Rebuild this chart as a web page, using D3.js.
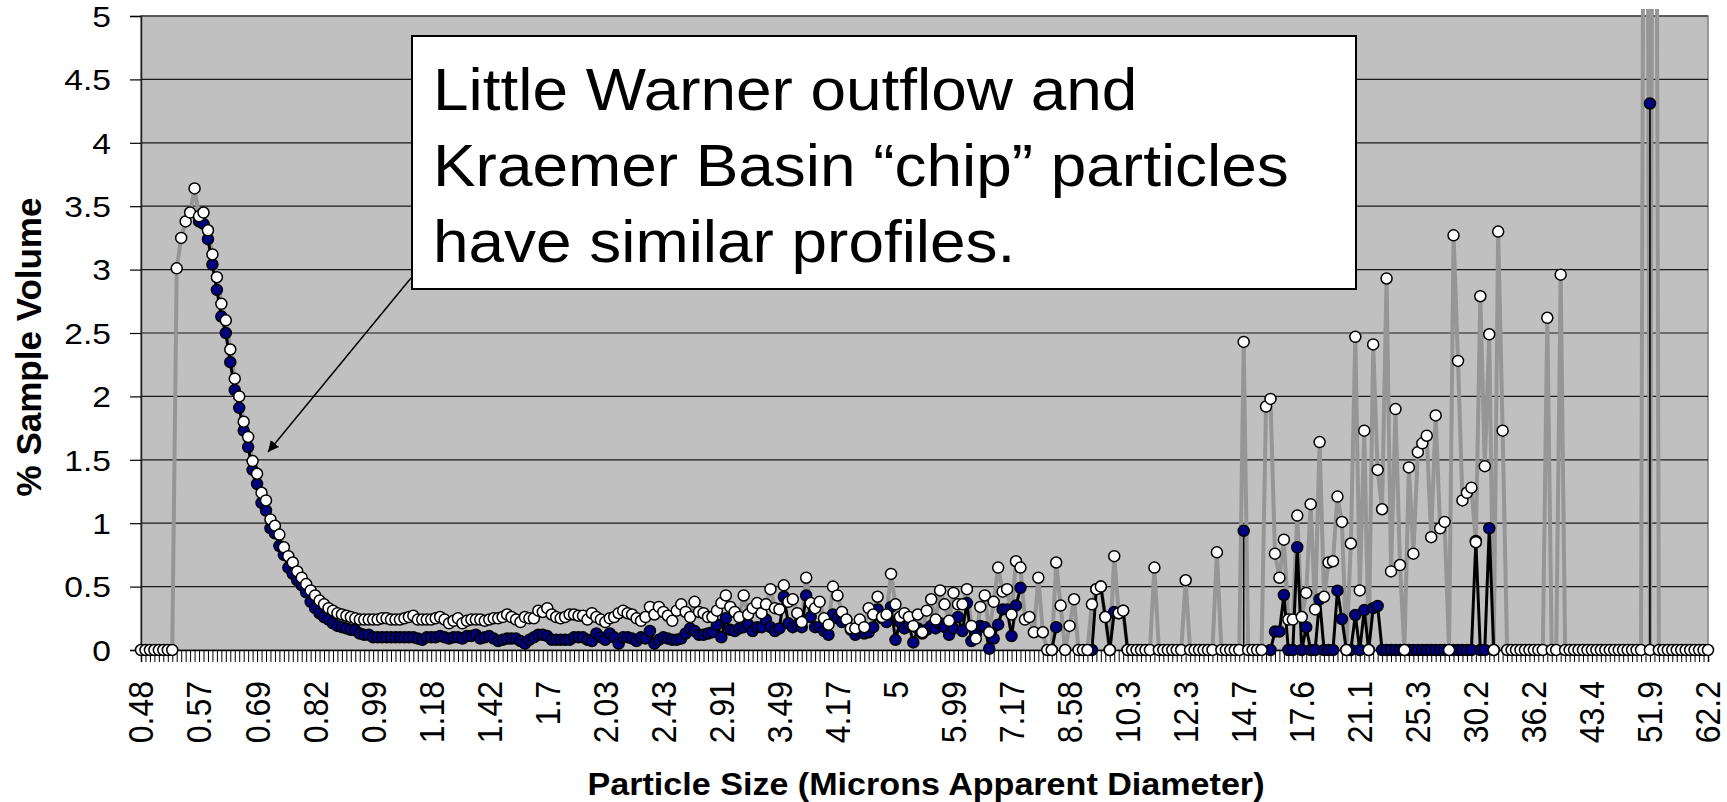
<!DOCTYPE html>
<html><head><meta charset="utf-8">
<script src="https://cdn.jsdelivr.net/npm/d3@7"></script>
<style>
body{margin:0;background:#fff}
svg{display:block}
text{font-family:"Liberation Sans",Arial,sans-serif;fill:#000}
</style>
</head><body>
<svg id="chart" width="1727" height="802"></svg>
<script>
// Tick labels on the category axis (particle size, microns), one label every 13 channels
const sizeLabels = ["0.48","0.57","0.69","0.82","0.99","1.18","1.42","1.7","2.03","2.43","2.91","3.49","4.17","5","5.99","7.17","8.58","10.3","12.3","14.7","17.6","21.1","25.3","30.2","36.2","43.4","51.9","62.2"];
const labelEvery = 13;
const yTickValues = [0,0.5,1,1.5,2,2.5,3,3.5,4,4.5,5];

// Series 1 (grey line, white markers) - % sample volume per size channel
const outflowSeries = [
0,0,0,0,0,0,0,0,3.01,3.25,
3.38,3.45,3.64,3.42,3.45,3.31,3.12,2.94,2.73,2.60,
2.37,2.14,2.00,1.80,1.68,1.49,1.39,1.24,1.18,1.03,
0.98,0.91,0.81,0.74,0.69,0.62,0.57,0.52,0.47,0.43,
0.39,0.36,0.33,0.31,0.29,0.28,0.27,0.26,0.25,0.24,
0.24,0.24,0.24,0.24,0.25,0.25,0.24,0.24,0.24,0.25,
0.26,0.27,0.24,0.24,0.24,0.24,0.25,0.26,0.24,0.21,
0.23,0.25,0.21,0.23,0.24,0.24,0.24,0.23,0.24,0.25,
0.25,0.26,0.28,0.26,0.24,0.22,0.26,0.25,0.25,0.31,
0.30,0.33,0.28,0.26,0.25,0.26,0.28,0.28,0.27,0.27,
0.24,0.29,0.26,0.24,0.22,0.25,0.26,0.29,0.31,0.29,
0.28,0.25,0.23,0.26,0.34,0.28,0.34,0.30,0.27,0.23,
0.31,0.36,0.30,0.26,0.38,0.30,0.29,0.26,0.26,0.31,
0.37,0.43,0.34,0.30,0.26,0.43,0.28,0.33,0.37,0.29,
0.36,0.48,0.33,0.32,0.51,0.38,0.40,0.29,0.22,0.57,
0.37,0.33,0.38,0.25,0.20,0.50,0.43,0.30,0.24,0.17,
0.17,0.24,0.18,0.33,0.28,0.42,0.26,0.28,0.60,0.36,
0.26,0.29,0.26,0.19,0.28,0.14,0.31,0.40,0.24,0.47,
0.36,0.23,0.45,0.36,0.36,0.48,0.19,0.09,0.34,0.43,
0.14,0.38,0.65,0.46,0.48,0.28,0.70,0.65,0.24,0.26,
0.14,0.57,0.14,0,0,0.69,0.35,0,0.19,0.40,
0,0,0,0.36,0.48,0.50,0.26,0,0.74,0.29,
0.31,0,0,0,0,0,0,0.65,0,0,
0,0,0,0,0.55,0,0,0,0,0,
0,0.77,0,0,0,0,0,2.43,0,0,
0,0,1.92,1.98,0.76,0.57,0.87,0.24,0.24,1.06,
0.26,0.45,1.15,0.32,1.64,0.42,0.69,0.70,1.21,1.01,
0,0.84,2.47,0.47,1.73,0,2.41,1.42,1.11,2.93,
0.62,1.90,0.67,0,1.44,0.76,1.56,1.63,1.69,0.89,
1.85,0.96,1.01,0,3.27,2.28,1.18,1.24,1.28,0.85,
2.79,1.45,2.49,0,3.30,1.73,0,0,0,0,
0,0,0,0,0,2.62,0,0,2.96,0,
0,0,0,0,0,0,0,0,0,0,
0,0,0,0,0,0,0,12,0,12,
0,0,0,0,0,0,0,0,0,0,
0,0
];

// Series 2 (black line, navy markers); null = no value in that channel
const chipSeries = [
null,null,null,null,null,null,null,null,null,null,
null,null,null,3.38,3.36,3.24,3.04,2.84,2.63,2.50,
2.27,2.05,1.91,1.73,1.60,1.42,1.31,1.16,1.10,0.96,
0.92,0.82,0.75,0.65,0.60,0.55,0.51,0.455,0.38,0.33,
0.29,0.26,0.24,0.21,0.19,0.18,0.17,0.16,0.155,0.13,
0.12,0.12,0.10,0.10,0.10,0.10,0.10,0.10,0.10,0.10,
0.10,0.10,0.09,0.08,0.10,0.10,0.10,0.11,0.10,0.09,
0.10,0.10,0.09,0.11,0.11,0.12,0.09,0.10,0.11,0.09,
0.07,0.08,0.09,0.09,0.09,0.07,0.05,0.08,0.10,0.12,
0.12,0.11,0.08,0.08,0.08,0.08,0.08,0.10,0.10,0.10,
0.08,0.07,0.13,0.10,0.08,0.13,0.10,0.05,0.10,0.10,
0.09,0.07,0.10,0.09,0.15,0.05,0.08,0.10,0.09,0.08,
0.08,0.09,0.13,0.17,0.15,0.12,0.12,0.13,0.14,0.20,
0.10,0.25,0.16,0.15,0.17,0.18,0.20,0.15,0.18,0.18,
0.24,0.18,0.15,0.17,0.42,0.21,0.18,0.20,0.18,0.43,
0.26,0.18,0.18,0.15,0.12,0.28,0.25,0.22,0.24,0.16,
0.12,0.15,0.13,0.14,0.18,0.32,0.25,0.22,0.34,0.08,
0.22,0.17,0.20,0.06,0.17,0.13,0.16,0.19,0.17,0.21,
0.18,0.12,0.17,0.26,0.15,0.37,0.07,0.13,0.19,0.18,
0.01,0.09,0.20,0.32,0.32,0.11,0.35,0.49,null,null,
null,null,null,null,0,0.18,null,null,null,null,
null,null,null,0,0.48,0.50,0.26,0,0.30,0.29,
0.31,0,null,null,null,null,null,null,null,null,
null,null,null,null,null,null,null,null,null,null,
null,null,null,null,null,null,null,0.94,null,null,
null,null,null,0,0.145,0.145,0.434,0,0,0.81,
0,0.18,0,0,0.40,0,0,0,0.468,0.244,
0,0,0.276,0,0.315,0,0.33,0.347,0,0,
0,0,0,0,0,0,0,0,0,0,
0,0,0,0,0,0,0,0,0,0.86,
0,0,0.96,0,null,null,null,null,null,null,
null,null,null,null,null,null,null,null,null,null,
null,null,null,null,null,null,null,null,null,null,
null,null,null,null,null,null,null,null,4.31,null,
null,null,null,null,null,null,null,null,null,null,
null,null
];

const annotationLines = ["Little Warner outflow and","Kraemer Basin \u201cchip\u201d particles","have similar profiles."];
const xTitle = "Particle Size (Microns Apparent Diameter)";
const yTitle = "% Sample Volume";

const svg = d3.select("#chart");
const plot = {left:141, right:1708, top:16, bottom:650};
const channels = d3.range(outflowSeries.length);

const x = d3.scalePoint().domain(channels).range([plot.left, plot.right]);
const y = d3.scaleLinear().domain([0,5]).range([plot.bottom, plot.top]);

// plot background
svg.append("rect").attr("x",plot.left).attr("y",plot.top)
  .attr("width",plot.right-plot.left).attr("height",plot.bottom-plot.top)
  .attr("fill","#C0C0C0").attr("stroke","#808080").attr("stroke-width",1.5);

// gridlines
svg.append("g").selectAll("line").data(yTickValues.filter(v=>v>0)).join("line")
  .attr("x1",plot.left).attr("x2",plot.right)
  .attr("y1",d=>y(d)).attr("y2",d=>y(d))
  .attr("stroke","#1a1a1a").attr("stroke-width",1.2);

// Y axis
const yAxis = d3.axisLeft(y).tickValues(yTickValues).tickSize(11).tickFormat(()=> "");
const gy = svg.append("g").attr("transform",`translate(${plot.left},0)`).call(yAxis);
gy.select(".domain").attr("stroke","#222").attr("stroke-width",1.5);
gy.selectAll(".tick line").attr("stroke","#000").attr("stroke-width",1.2);
svg.append("g").selectAll("text").data(yTickValues).join("text")
  .attr("transform",d=>`translate(111,${y(d)}) scale(1.12,1)`)
  .attr("text-anchor","end").attr("dy","0.36em")
  .style("font-size","30px")
  .text(d=>d3.format("")(d));

// X axis (ticks on every channel)
const xAxis = d3.axisBottom(x).tickValues(channels).tickSize(12).tickFormat(()=>"");
const gx = svg.append("g").attr("transform",`translate(0,${plot.bottom})`).call(xAxis);
gx.select(".domain").attr("stroke","#000").attr("stroke-width",1.5);
gx.selectAll(".tick line").attr("stroke","#000").attr("stroke-width",1);

svg.append("g").selectAll("text").data(sizeLabels).join("text")
  .attr("transform",(d,i)=>`translate(${x(i*labelEvery)},681) scale(1.08,1) rotate(-90)`)
  .attr("text-anchor","end").attr("dy","0.36em")
  .style("font-size","32px")
  .text(d=>d);

// clip for series
svg.append("clipPath").attr("id","clip").append("rect")
  .attr("x",plot.left-10).attr("y",9).attr("width",plot.right-plot.left+20).attr("height",plot.bottom-9+12);

const series = svg.append("g").attr("clip-path","url(#clip)");
const line = d3.line().defined(d=>d.v!==null).x(d=>x(d.i)).y(d=>y(d.v));
const outflowPts = outflowSeries.map((v,i)=>({i,v}));
const chipPts = chipSeries.map((v,i)=>({i,v}));

series.append("path").datum(outflowPts).attr("d",line)
  .attr("fill","none").attr("stroke","#969696").attr("stroke-width",4).attr("stroke-linejoin","round");
series.append("path").datum(chipPts).attr("d",line)
  .attr("fill","none").attr("stroke","#000").attr("stroke-width",3).attr("stroke-linejoin","round");

// connector from isolated navy points down to the axis
const isolated = chipPts.filter(d=>d.v!==null && (chipSeries[d.i-1]==null) && (chipSeries[d.i+1]==null));
series.selectAll("line.drop").data(isolated).join("line").attr("class","drop")
  .attr("x1",d=>x(d.i)).attr("x2",d=>x(d.i)).attr("y1",d=>y(d.v)).attr("y2",y(0))
  .attr("stroke","#000").attr("stroke-width",1.6);

series.selectAll("circle.chip").data(chipPts.filter(d=>d.v!==null)).join("circle").attr("class","chip")
  .attr("cx",d=>x(d.i)).attr("cy",d=>y(d.v)).attr("r",5.5)
  .attr("fill","#000080").attr("stroke","#000").attr("stroke-width",1.5);
series.selectAll("circle.out").data(outflowPts).join("circle").attr("class","out")
  .attr("cx",d=>x(d.i)).attr("cy",d=>y(d.v)).attr("r",5.5)
  .attr("fill","#fff").attr("stroke","#000").attr("stroke-width",1.5);

// axis titles
svg.append("text").attr("transform","translate(926,795) scale(1.1,1)")
  .attr("text-anchor","middle").style("font-size","31px").style("font-weight","bold").text(xTitle);
svg.append("text").attr("transform","translate(41,347) rotate(-90)")
  .attr("text-anchor","middle").style("font-size","35px").style("font-weight","bold").text(yTitle);

// annotation box + arrow
svg.append("defs").append("marker").attr("id","arrow").attr("viewBox","0 0 10 10")
  .attr("refX",10).attr("refY",5).attr("markerWidth",11).attr("markerHeight",11)
  .attr("markerUnits","userSpaceOnUse").attr("orient","auto")
  .append("path").attr("d","M0,0 L10,5 L0,10 z").attr("fill","#000");
svg.append("line").attr("x1",411).attr("y1",278).attr("x2",268).attr("y2",452)
  .attr("stroke","#000").attr("stroke-width",1.5).attr("marker-end","url(#arrow)");
svg.append("rect").attr("x",412).attr("y",36).attr("width",944).attr("height",253)
  .attr("fill","#fff").attr("stroke","#000").attr("stroke-width",2);
svg.append("g").selectAll("text").data(annotationLines).join("text")
  .attr("transform",(d,i)=>`translate(433,${110+i*76}) scale(1.065,1)`)
  .style("font-size","60px").text(d=>d);
</script>
</body></html>
